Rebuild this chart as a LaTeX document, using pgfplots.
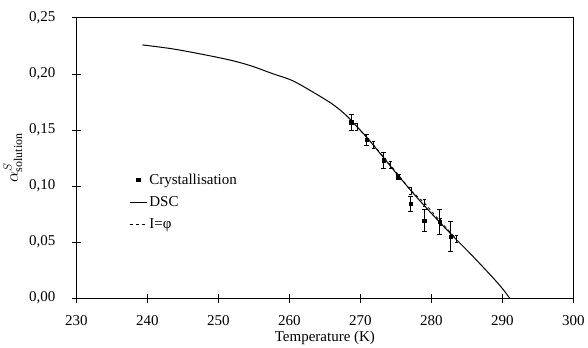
\documentclass[border=0pt]{standalone}
\usepackage{pgfplots}
\pgfplotsset{compat=1.18}
\usepackage{fontspec}
\setmainfont{Liberation Serif}
\begin{document}
\begin{tikzpicture}
\begin{axis}[
  scale only axis, width=497pt, height=280pt,
  xmin=230, xmax=300, ymin=0, ymax=0.25,
  clip=false,
  xtick={230,240,250,260,270,280,290,300},
  ytick={0,0.05,0.10,0.15,0.20,0.25},
  xtick pos=left, ytick pos=left,
  axis line style={line width=1pt},
  tick align=center,
  major tick length=9pt,
  every tick/.append style={black, line width=1pt},
  /pgf/number format/assume math mode=true,
  /pgf/number format/use comma,
  yticklabel={\pgfmathprintnumber[fixed,fixed zerofill,precision=2]{\tick}},
  xticklabel={\pgfmathprintnumber[fixed,precision=0]{\tick}},
  ticklabel style={font=\fontsize{15}{17}\selectfont},
  xticklabel shift=9pt,
  yticklabel shift=13pt,
  xlabel={Temperature (K)},
  ylabel={$\alpha^{S}_{\mathrm{solution}}$},
  xlabel style={font=\fontsize{15}{17}\selectfont, yshift=1pt},
  ylabel style={font=\fontsize{17}{19}\selectfont},
  legend style={at={(axis cs:237.0,0.1145)}, anchor=north west, draw=none, fill=none,
    font=\fontsize{15}{17}\selectfont, row sep=6.5pt},
  legend cell align=left,
]
% Crystallisation points with error bars
\addplot[only marks, mark=square*, mark size=1.6pt, black,
  error bars/.cd, y dir=both, y explicit, error bar style={line width=0.9pt}, error mark options={rotate=90, mark size=2.5pt, line width=0.9pt}]
  coordinates {
  (268.7,0.157) +- (0,0.007)
  (270.9,0.141) +- (0,0.005)
  (273.3,0.123) +- (0,0.007)
  (275.3,0.108) +- (0,0.002)
  (277.1,0.084) +- (0,0.007)
  (279.0,0.069) +- (0,0.010)
  (281.2,0.068) +- (0,0.011)
  (282.7,0.055) +- (0,0.013)
  };
\addlegendentry{Crystallisation}
% DSC curve
\addplot[black, line width=1pt, smooth, no marks]
  coordinates {
  (239.3,0.2260) (243.5,0.2225) (247.8,0.2175) (251.6,0.2125) (254.5,0.2075)
  (257.6,0.2004) (260.4,0.1942) (263.2,0.1843) (266.0,0.1734) (267.8,0.1643)
  (269.0,0.1565) (271.1,0.1420) (273.3,0.1250) (275.3,0.1095) (278.0,0.0895)
  (280.6,0.0715) (283.0,0.0555) (285.5,0.0395) (288.4,0.0200) (290.0,0.0085)
  (291.0,0.0)
  };
\addlegendentry{DSC}
% I = phi
\addplot[black, dashed, line width=0.8pt, mark=none,
  error bars/.cd, y dir=both, y explicit, error bar style={line width=0.6pt, solid}, error mark options={rotate=90, mark size=1.5pt, solid}]
  coordinates {
  (269.5,0.153) +- (0,0.003)
  (271.8,0.137) +- (0,0.003)
  (274.2,0.119) +- (0,0.003)
  (277.1,0.096) +- (0,0.003)
  (279.0,0.085) +- (0,0.003)
  (281.3,0.068) +- (0,0.003)
  (283.5,0.053) +- (0,0.003)
  };
\addlegendentry{I=φ}
% crossing tick marks on the left and bottom axis lines
\pgfplotsinvokeforeach{230,240,250,260,270,280,290,300}{
  \draw[line width=1pt] ([yshift=-4.5pt]axis cs:#1,0) -- ([yshift=4.5pt]axis cs:#1,0);
}
\pgfplotsinvokeforeach{0,0.05,0.10,0.15,0.20,0.25}{
  \draw[line width=1pt] ([xshift=-4.5pt]axis cs:230,#1) -- ([xshift=4.5pt]axis cs:230,#1);
}
\end{axis}
\path ([yshift=18pt]current axis.north west);
\end{tikzpicture}
\end{document}
